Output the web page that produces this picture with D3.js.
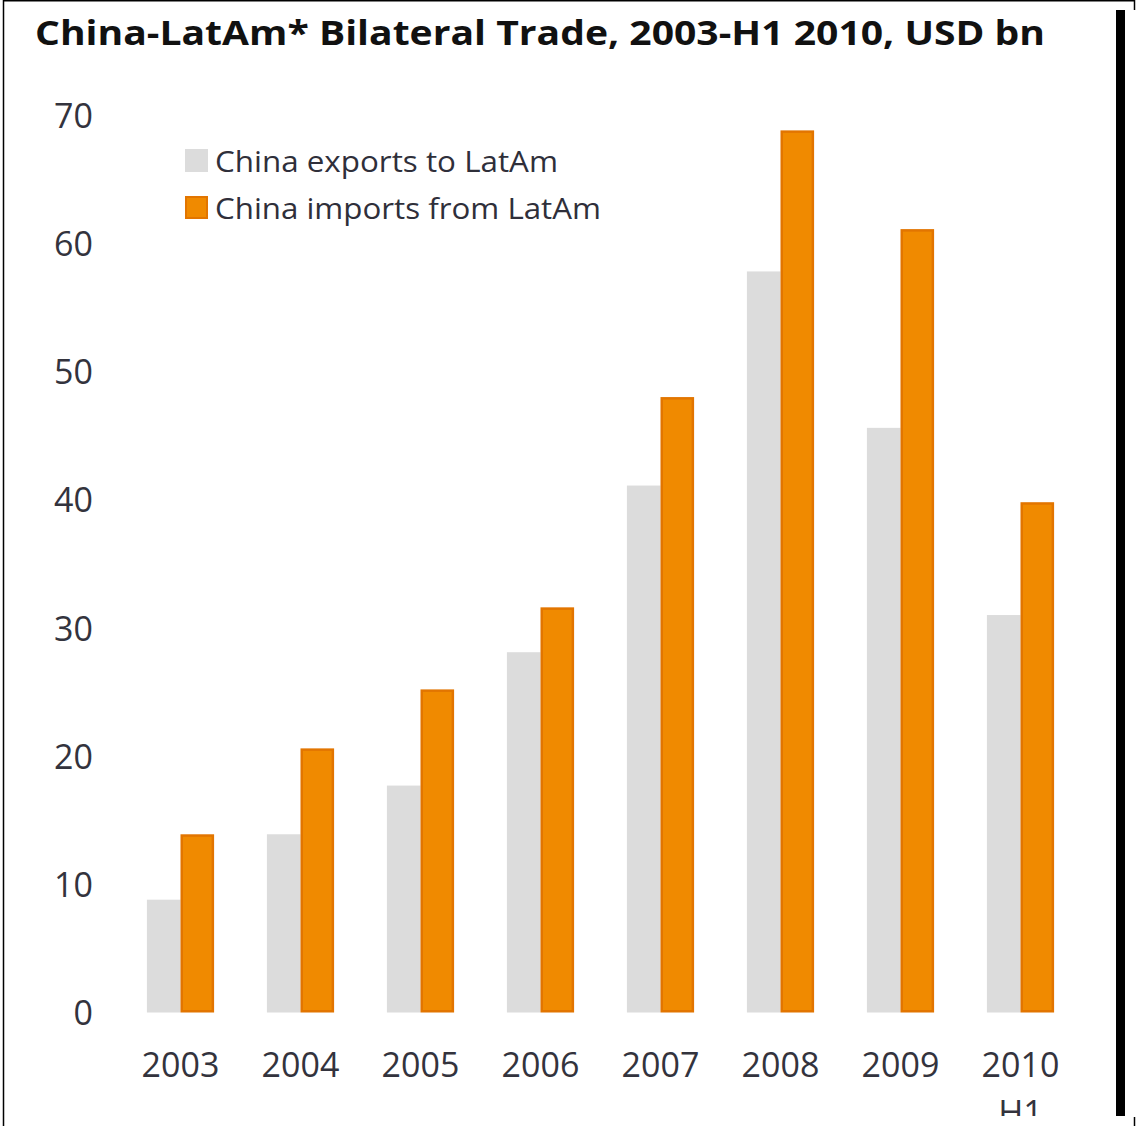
<!DOCTYPE html>
<html>
<head>
<meta charset="utf-8">
<script src="https://cdn.jsdelivr.net/npm/d3@7"></script>
<style>
  html, body { margin: 0; padding: 0; background: #fff; }
  svg { display: block; }
  text { font-family: "Open Sans", "Noto Sans", sans-serif; }
</style>
</head>
<body>
<script>
// China–Latin America bilateral trade, USD bn
const years = ["2003", "2004", "2005", "2006", "2007", "2008", "2009", "2010 H1"];
const exportsToLatAm = [8.8, 13.9, 17.7, 28.1, 41.1, 57.8, 45.6, 31.0];
const importsFromLatAm = [13.9, 20.6, 25.2, 31.6, 48.0, 68.8, 61.1, 39.8];
const seriesNames = ["China exports to LatAm", "China imports from LatAm"];
const yTicks = [0, 10, 20, 30, 40, 50, 60, 70];

const W = 1140, H = 1126;
const colors = { exp: "#dcdcdc", imp: "#f08a00", impEdge: "#e27500" };

const svg = d3.select("body").append("svg")
  .attr("width", W).attr("height", H);

// clip for the bottom edge (second line of the last label runs past it)
svg.append("defs").append("clipPath").attr("id", "plotClip")
  .append("rect").attr("x", 0).attr("y", 0).attr("width", W).attr("height", 1116);

const x = d3.scaleBand().domain(years).range([120.5, 1080.5])
  .paddingInner(0.44).paddingOuter(0.22);
const xSub = d3.scaleBand().domain(["exp", "imp"]).range([0, x.bandwidth()]).padding(0);
const y = d3.scaleLinear().domain([0, 70]).range([1012.5, 115]);

// title
svg.append("text")
  .attr("x", 35).attr("y", 45)
  .attr("font-size", 34).attr("font-weight", 700).attr("fill", "#111")
  .attr("textLength", 1010).attr("lengthAdjust", "spacingAndGlyphs")
  .text("China-LatAm* Bilateral Trade, 2003-H1 2010, USD bn");

// y axis labels (no axis line, no ticks)
const yAxis = d3.axisLeft(y).tickValues(yTicks).tickSize(0).tickPadding(0);
const gy = svg.append("g").attr("transform", "translate(93,0)").call(yAxis);
gy.select(".domain").remove();
gy.selectAll("text")
  .attr("font-family", "'Open Sans', sans-serif")
  .attr("font-size", 34).attr("fill", "#33333d").attr("dy", "0.36em");

// bars
const groups = svg.append("g").selectAll("g").data(years).join("g")
  .attr("transform", d => `translate(${x(d)},0)`);

groups.append("rect")
  .attr("x", xSub("exp"))
  .attr("y", (d, i) => y(exportsToLatAm[i]))
  .attr("width", xSub.bandwidth())
  .attr("height", (d, i) => y(0) - y(exportsToLatAm[i]))
  .attr("fill", colors.exp);

const sw = 2.5;
groups.append("rect")
  .attr("x", xSub("imp") + sw / 2)
  .attr("y", (d, i) => y(importsFromLatAm[i]) + sw / 2)
  .attr("width", xSub.bandwidth() - sw)
  .attr("height", (d, i) => y(0) - y(importsFromLatAm[i]) - sw)
  .attr("fill", colors.imp)
  .attr("stroke", colors.impEdge)
  .attr("stroke-width", sw);

// x labels
const xl = svg.append("g").attr("clip-path", "url(#plotClip)")
  .selectAll("text").data(years).join("text")
  .attr("x", d => x(d) + x.bandwidth() / 2)
  .attr("y", 1077)
  .attr("text-anchor", "middle")
  .attr("font-size", 34).attr("fill", "#33333d");
xl.each(function (d) {
  const parts = d.split(" ");
  const t = d3.select(this);
  parts.forEach((p, k) => {
    t.append("tspan")
      .attr("x", x(d) + x.bandwidth() / 2)
      .attr("dy", k === 0 ? 0 : 48)
      .text(p);
  });
});

// legend
const legend = svg.append("g");
const legItems = [
  { name: seriesNames[0], fill: colors.exp, stroke: null, y: 149, w: 343 },
  { name: seriesNames[1], fill: colors.imp, stroke: colors.impEdge, y: 196, w: 386 }
];
legItems.forEach(it => {
  legend.append("rect")
    .attr("x", 185 + (it.stroke ? 1 : 0)).attr("y", it.y + (it.stroke ? 1 : 0))
    .attr("width", it.stroke ? 21 : 23).attr("height", it.stroke ? 21 : 23)
    .attr("fill", it.fill)
    .attr("stroke", it.stroke || "none").attr("stroke-width", it.stroke ? 2 : 0);
  legend.append("text")
    .attr("x", 215).attr("y", it.y + 23)
    .attr("font-size", 30).attr("fill", "#2f2f3a")
    .attr("textLength", it.w).attr("lengthAdjust", "spacingAndGlyphs")
    .text(it.name);
});

// frame edges
const frame = svg.append("g").attr("stroke", "#000").attr("fill", "none");
frame.append("line").attr("x1", 3.5).attr("x2", 3.5).attr("y1", 0).attr("y2", H).attr("stroke-width", 1.5);
frame.append("line").attr("x1", 3).attr("x2", 1135).attr("y1", 0.75).attr("y2", 0.75).attr("stroke-width", 1.5);
frame.append("line").attr("x1", 1134.5).attr("x2", 1134.5).attr("y1", 0).attr("y2", 10).attr("stroke-width", 1.5);
frame.append("line").attr("x1", 1134.5).attr("x2", 1134.5).attr("y1", 1117).attr("y2", H).attr("stroke-width", 1.5);
svg.append("rect").attr("x", 1116).attr("y", 10).attr("width", 9).attr("height", 1106).attr("fill", "#000");
</script>
</body>
</html>
